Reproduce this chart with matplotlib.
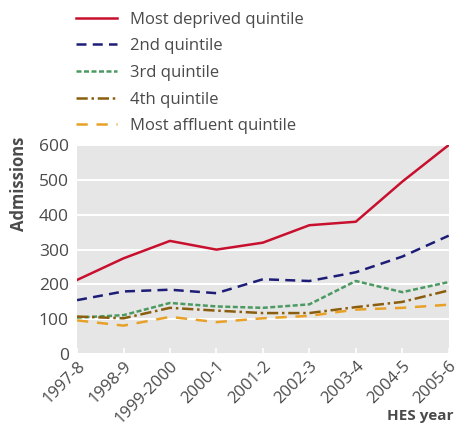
import matplotlib.pyplot as plt

years = ["1997-8", "1998-9", "1999-2000", "2000-1", "2001-2",
         "2002-3", "2003-4", "2004-5", "2005-6"]
most_deprived = [213, 275, 325, 300, 320, 370, 380, 495, 600]
second = [155, 180, 185, 175, 215, 210, 235, 280, 340]
third = [105, 112, 147, 137, 133, 143, 210, 178, 207]
fourth = [108, 103, 133, 125, 118, 118, 135, 150, 183]
most_affluent = [97, 82, 107, 92, 103, 110, 128, 133, 142]

plt.rcParams["font.family"] = ["Open Sans", "DejaVu Sans"]
text_col = "#4a4a4a"

fig = plt.figure(figsize=(4.56, 4.33), dpi=100)
ax = fig.add_axes([0.169, 0.182, 0.815, 0.483])
ax.set_facecolor("#e6e6e6")

x = range(len(years))
lw = 1.8
ax.plot(x, most_deprived, color="#c8102e", lw=lw, label="Most deprived quintile")
ax.plot(x, second, color="#1d1d78", lw=lw, ls=(0, (4, 2.5)), label="2nd quintile")
ax.plot(x, third, color="#4c9a62", lw=lw, ls=(0, (2, 1)), label="3rd quintile")
ax.plot(x, fourth, color="#8a5e0e", lw=lw, ls=(0, (4.5, 1.5, 1, 1.5)), label="4th quintile")
ax.plot(x, most_affluent, color="#e8a126", lw=lw, ls=(0, (4.5, 3.5)), label="Most affluent quintile")

ax.set_xlim(0, len(years) - 1)
ax.set_ylim(0, 600)
ax.set_yticks(range(0, 601, 100))
ax.yaxis.grid(True, color="white", lw=1.4)
ax.set_axisbelow(True)
ax.set_xticks(list(x))
ax.set_xticklabels(years, rotation=45, ha="right", rotation_mode="anchor")
ax.tick_params(axis="x", direction="in", length=4, color="white", width=1.2,
               labelsize=12, labelcolor=text_col, pad=3)
ax.tick_params(axis="y", length=0, labelsize=12.5, labelcolor=text_col, pad=6)
for s in ax.spines.values():
    s.set_visible(False)

fig.text(10 / 456, 1 - 137 / 433, "Admissions", rotation=90, ha="left", va="top",
         fontsize=12, fontweight="bold", color=text_col)
fig.text(0.995, 0.022, "HES year", ha="right", va="bottom", fontsize=11,
         fontweight="bold", color=text_col)

leg = ax.legend(loc="lower left", bbox_to_anchor=(-0.022, 1.02), frameon=False,
                fontsize=12, handlelength=2.5, labelspacing=0.64,
                handletextpad=0.75, borderaxespad=0)
for t in leg.get_texts():
    t.set_color(text_col)

fig.savefig("out.png", dpi=100)
